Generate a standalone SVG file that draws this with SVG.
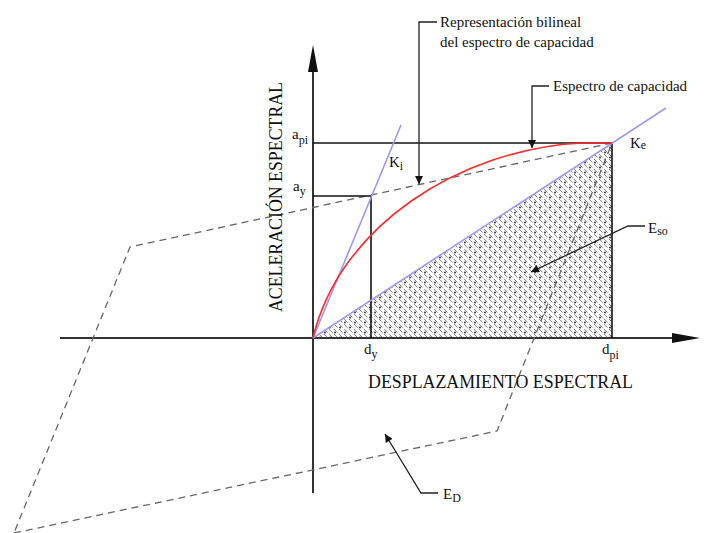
<svg xmlns="http://www.w3.org/2000/svg" width="718" height="533" viewBox="0 0 718 533">
<style>
text{font-family:"Liberation Serif","Times New Roman",serif;fill:#111}
.lbl{font-size:15px}
.sub{font-size:12px}
.ax{stroke:#333;stroke-width:2;fill:none}
.ln{stroke:#111;stroke-width:1.6;fill:none}
.dash{stroke:#666;stroke-width:1.3;fill:none;stroke-dasharray:7 5}
.blue{stroke:#9a9af5;stroke-width:1.6;fill:none}
.red{stroke:#ff2a2a;stroke-width:1.6;fill:none}
.lead{stroke:#222;stroke-width:1.3;fill:none}
</style>
<defs>
<pattern id="hatch" patternUnits="userSpaceOnUse" width="5" height="5">
<path d="M-1,-1 L6,6" stroke="#888" stroke-width="1" stroke-dasharray="5 2"/>
</pattern>
<pattern id="dots" patternUnits="userSpaceOnUse" width="10" height="10">
<circle cx="5" cy="2.5" r="0.9" fill="#222"/>
<circle cx="0" cy="7.5" r="0.9" fill="#222"/>
<circle cx="10" cy="7.5" r="0.9" fill="#222"/>
</pattern>
<marker id="arr" viewBox="0 0 10 10" refX="10" refY="5" markerWidth="10" markerHeight="8" markerUnits="userSpaceOnUse" orient="auto">
<path d="M0,0 L10,5 L0,10 z" fill="#111"/>
</marker>
</defs>
<rect width="718" height="533" fill="#fff"/>

<g id="area-eso">
<path d="M313,338 L612,143 L612,338 z" fill="url(#hatch)"/>
<path d="M313,338 L612,143 L612,338 z" fill="url(#dots)"/>
</g>

<g id="axes">
<line class="ax" x1="60" y1="338" x2="680" y2="338"/>
<path d="M672,333 L700,338 L672,343 z" fill="#111"/>
<line class="ax" x1="313" y1="493" x2="313" y2="65"/>
<path d="M308,72 L313,45 L318,72 z" fill="#111"/>
</g>

<g id="loop-ed">
<path class="dash" d="M612,143 L130,247 L14,533"/>
<path class="dash" d="M14,533 L497,431 L612,143"/>
</g>

<g id="frame">
<line class="ln" x1="313" y1="143" x2="612" y2="143"/>
<line class="ln" x1="612" y1="143" x2="612" y2="338"/>
<line class="ln" x1="313" y1="196" x2="371" y2="196"/>
<line class="ln" x1="371" y1="196" x2="371" y2="338"/>
</g>

<g id="ki-line"><line class="blue" x1="313" y1="338" x2="401" y2="125"/></g>
<g id="ke-line"><line class="blue" x1="313" y1="338" x2="666" y2="108"/></g>

<g id="capacity-curve">
<path class="red" d="M313,338 C340,225 460,150 580,143 L612,143"/>
</g>

<g id="connectors">
<path class="lead" d="M437,22 L419,22 L419,184" marker-end="url(#arr)"/>
<path class="lead" d="M549,86 L532,86 L532,148" marker-end="url(#arr)"/>
<path class="lead" d="M645,226 L628,226 L531,272" marker-end="url(#arr)"/>
<path class="lead" d="M438,493 L421,493 L385,434" marker-end="url(#arr)"/>
</g>

<g id="labels">
<text class="lbl" x="440" y="27">Representación bilineal</text>
<text class="lbl" x="440" y="47">del espectro de capacidad</text>
<text class="lbl" x="553" y="91">Espectro de capacidad</text>
<text class="lbl" x="630" y="148">K<tspan class="sub" dy="1">e</tspan></text>
<text class="lbl" x="389" y="167">K<tspan class="sub" dy="3">i</tspan></text>
<text class="lbl" x="648" y="233">E<tspan class="sub" dy="2">so</tspan></text>
<text class="lbl" x="443" y="499">E<tspan class="sub" dy="3">D</tspan></text>
<text class="lbl" x="292" y="139">a<tspan class="sub" dy="5">pi</tspan></text>
<text class="lbl" x="293" y="191">a<tspan class="sub" dy="4">y</tspan></text>
<text class="lbl" x="364" y="354">d<tspan class="sub" dy="4">y</tspan></text>
<text class="lbl" x="602" y="354">d<tspan class="sub" dy="5">pi</tspan></text>
<text x="368" y="388" font-size="18" textLength="265" lengthAdjust="spacingAndGlyphs">DESPLAZAMIENTO ESPECTRAL</text>
<text transform="translate(282,197) rotate(-90)" font-size="18" text-anchor="middle" textLength="230" lengthAdjust="spacingAndGlyphs">ACELERACIÓN ESPECTRAL</text>
</g>
</svg>
